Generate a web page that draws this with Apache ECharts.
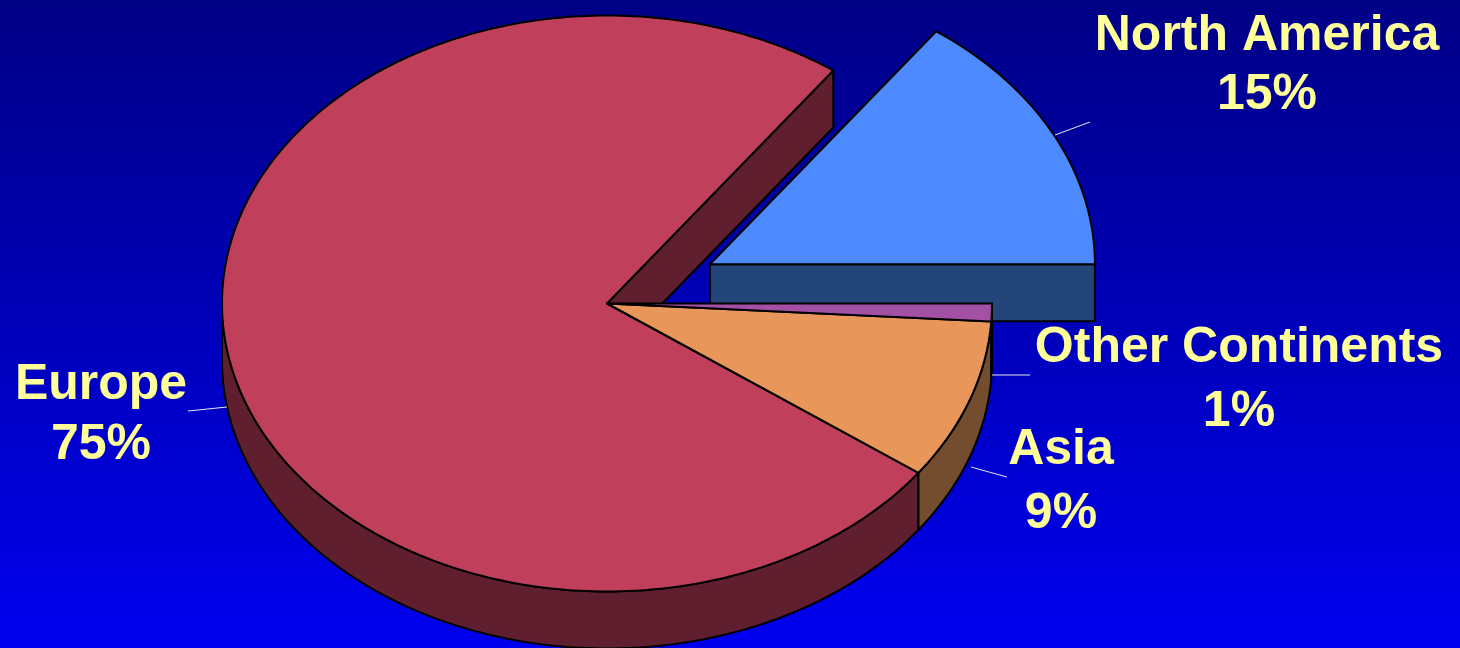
<!DOCTYPE html>
<html>
<head>
<meta charset="utf-8">
<script src="https://cdn.jsdelivr.net/npm/echarts@6/dist/echarts.min.js"></script>
<style>
html,body{margin:0;padding:0;background:#0000c0;}
#chart{width:1460px;height:648px;}
</style>
</head>
<body>
<div id="chart"></div>
<script>
// ---- data ----
const categories = ['North America', 'Europe', 'Asia', 'Other Continents'];
const shares = [15, 75, 9, 1];
const explodedSlices = ['North America'];

// ---- styles / layout (not data) ----
const topColors  = {'North America':'#4D8AFF','Europe':'#C0405C','Asia':'#E8965A','Other Continents':'#A450A4'};
const sideColors = {'North America':'#234579','Europe':'#5F1F2F','Asia':'#744C2E','Other Continents':'#55285A'};
const G = {cx:607, cy:303.5, rx:385, ry:288, depth:57, explode:0.3};
const labelLayout = {
  'North America':    {x:1267, y:6.5, lh:59, line:[[1055,135],[1090,122]]},
  'Europe':           {x:101,  y:355, lh:60, line:[[188,411],[227,407]]},
  'Asia':             {x:1061, y:418, lh:64, line:[[971,467],[1007,477]]},
  'Other Continents': {x:1239, y:316, lh:64, line:[[992,375],[1030,375]]}
};

const total = shares.reduce((a,b)=>a+b,0);
const starts = [];
(function(){ let acc=0; shares.forEach(v=>{ starts.push(acc/total*360); acc+=v; }); })();
const D2R = Math.PI/180;

function pt(cx, cy, deg, dy){
  return [cx + G.rx*Math.cos(deg*D2R), cy - G.ry*Math.sin(deg*D2R) + (dy||0)];
}
function arc(cx, cy, a, b, dy){
  const n = Math.max(2, Math.ceil(Math.abs(b-a)));
  const pts = [];
  for(let k=0;k<=n;k++) pts.push(pt(cx, cy, a+(b-a)*k/n, dy));
  return pts;
}

function renderItem(params, api){
  const i = params.dataIndex;
  const name = categories[i];
  const v = api.value(0);
  const s = starts[i], e = s + v/total*360;
  const mid = (s+e)/2;
  const isEx = explodedSlices.indexOf(name) >= 0;
  let cx = G.cx, cy = G.cy;
  if(isEx){ cx += G.explode*G.rx*Math.cos(mid*D2R); cy -= G.explode*G.ry*Math.sin(mid*D2R); }
  const rank = isEx ? 0 : 1 + i;
  const strokeStyle = {stroke:'#000', lineWidth:2, lineJoin:'round'};
  const children = [];
  const n = categories.length;
  const prevEx = explodedSlices.indexOf(categories[(i-1+n)%n]) >= 0;
  const nextEx = explodedSlices.indexOf(categories[(i+1)%n]) >= 0;

  // radial walls
  function radial(deg){
    const c0=[cx,cy], r0=pt(cx,cy,deg,0), r1=pt(cx,cy,deg,G.depth), c1=[cx,cy+G.depth];
    children.push({type:'polygon', z2:10+rank, shape:{points:[c0,r0,r1,c1]},
      style:Object.assign({fill:sideColors[name]}, strokeStyle)});
  }
  if((isEx||prevEx) && Math.cos(s*D2R) > 1e-6) radial(s);
  if((isEx||nextEx) && Math.cos(e*D2R) < -1e-6) radial(e);

  // outer (front) wall
  const a = Math.max(s,180), b = Math.min(e,360);
  if(b > a){
    const pts = arc(cx,cy,a,b,0).concat(arc(cx,cy,b,a,G.depth));
    children.push({type:'polygon', z2:20+rank, shape:{points:pts},
      style:Object.assign({fill:sideColors[name]}, strokeStyle)});
  }

  // top face
  const topPts = [[cx,cy]].concat(arc(cx,cy,s,e,0));
  children.push({type:'polygon', z2:100+rank, shape:{points:topPts},
    style:Object.assign({fill:topColors[name]}, strokeStyle)});

  // label + leader
  const L = labelLayout[name];
  children.push({type:'line', z2:200, shape:{x1:L.line[0][0], y1:L.line[0][1], x2:L.line[1][0], y2:L.line[1][1]},
    style:{stroke:'#E8E8E8', lineWidth:1}});
  children.push({type:'text', z2:210, x:L.x, y:L.y,
    style:{text:name + '\n' + v + '%', fill:'#FFFF99',
      fontFamily:'"Liberation Sans", Arial, sans-serif', fontWeight:'bold', fontSize:50,
      lineHeight:L.lh, align:'center', verticalAlign:'top'}});

  return {type:'group', children};
}

const chart = echarts.init(document.getElementById('chart'), null, {renderer:'canvas'});
chart.setOption({
  animation:false,
  backgroundColor:{type:'linear', x:0, y:0, x2:0, y2:1,
    colorStops:[{offset:0,color:'#000085'},{offset:1,color:'#0000F0'}]},
  series:[{
    type:'custom',
    coordinateSystem:'none',
    silent:true,
    renderItem:renderItem,
    data: shares.map((v,i)=>({name:categories[i], value:[v]}))
  }]
});
</script>
</body>
</html>
